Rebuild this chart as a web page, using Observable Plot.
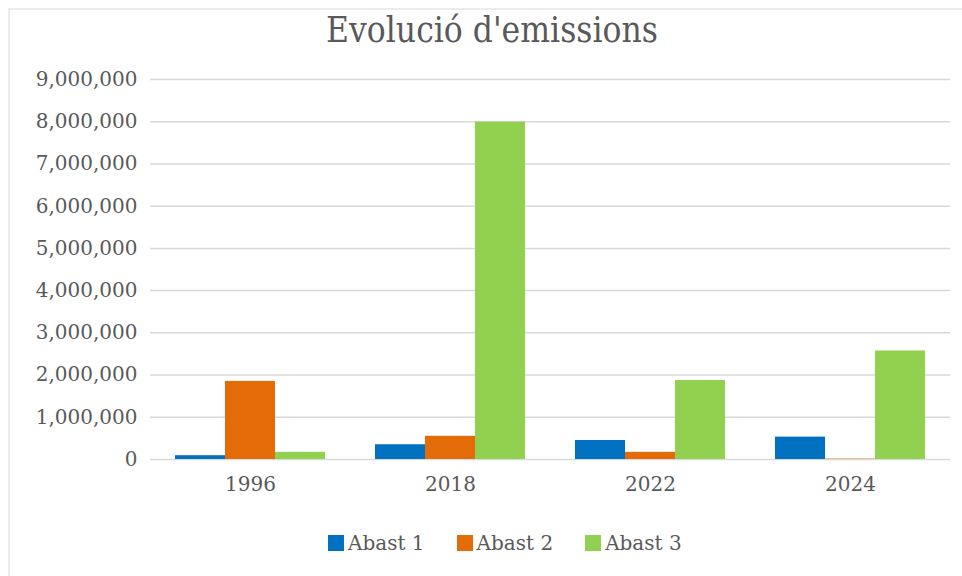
<!DOCTYPE html>
<html>
<head>
<meta charset="utf-8">
<script src="https://cdn.jsdelivr.net/npm/d3@7"></script>
<script src="https://cdn.jsdelivr.net/npm/@observablehq/plot@0.6"></script>
<style>
  html, body { margin: 0; padding: 0; background: #ffffff; }
  #wrap { position: relative; width: 962px; height: 576px; overflow: hidden; background: #fff; }
  #frame { position: absolute; left: 8px; top: 8px; width: 980px; height: 600px;
           border-top: 2px solid #ececec; border-left: 2px solid #ececec; }
  #title { position: absolute; left: 0; top: 12px; width: 984px; text-align: center;
           font-family: "DejaVu Serif Condensed", "DejaVu Serif", serif; font-size: 35px; line-height: 36px;
           color: #595959; }
  #chart { position: absolute; left: 0; top: 60px; }
  #legend { position: absolute; left: 328px; top: 530px; height: 26px; display: flex; align-items: center;
            font-family: "DejaVu Serif", serif; font-size: 20px; color: #595959; }
  .item { display: flex; align-items: center; margin-right: 32px; }
  .sw { width: 16px; height: 16px; margin-right: 4px; }
</style>
</head>
<body>
<div id="wrap">
  <div id="frame"></div>
  <div id="title">Evolució d'emissions</div>
  <div id="chart"></div>
  <div id="legend"></div>
</div>
<script>
const years = ["1996", "2018", "2022", "2024"];
const series = ["Abast 1", "Abast 2", "Abast 3"];
const abast1 = [90000, 350000, 450000, 530000];
const abast2 = [1850000, 550000, 170000, 10000];
const abast3 = [170000, 7990000, 1870000, 2570000];
const colors = ["#0070C0", "#E36C09", "#92D050"];
const yTicks = [0, 1000000, 2000000, 3000000, 4000000, 5000000, 6000000, 7000000, 8000000, 9000000];

const values = [abast1, abast2, abast3];
const data = years.flatMap((yr, i) => series.map((s, j) => ({year: yr, series: s, value: values[j][i]})));

const chart = Plot.plot({
  width: 962,
  height: 455,
  marginLeft: 150,
  marginRight: 12,
  marginTop: 19,
  marginBottom: 56,
  style: {fontFamily: "DejaVu Serif", fontSize: "20px", color: "#595959", background: "transparent", overflow: "visible"},
  fx: {domain: years, paddingInner: 0.25, paddingOuter: 0.125, label: null, tickSize: 0, tickPadding: 17},
  x: {domain: series, padding: 0, axis: null},
  y: {domain: [0, 9000000], ticks: yTicks, tickFormat: d3.format(","), tickSize: 0, tickPadding: 38, label: null},
  color: {domain: series, range: colors},
  marks: [
    Plot.ruleY(yTicks, {stroke: "#d9d9d9", strokeWidth: 1.5, insetLeft: -25, insetRight: -25}),
    Plot.barY(data, {fx: "year", x: "series", y: "value", fill: "series"})
  ]
});
document.getElementById("chart").appendChild(chart);

const legend = document.getElementById("legend");
series.forEach((s, i) => {
  const item = document.createElement("div");
  item.className = "item";
  const sw = document.createElement("div");
  sw.className = "sw";
  sw.style.background = colors[i];
  const label = document.createElement("span");
  label.textContent = s;
  item.appendChild(sw);
  item.appendChild(label);
  legend.appendChild(item);
});
</script>
</body>
</html>
